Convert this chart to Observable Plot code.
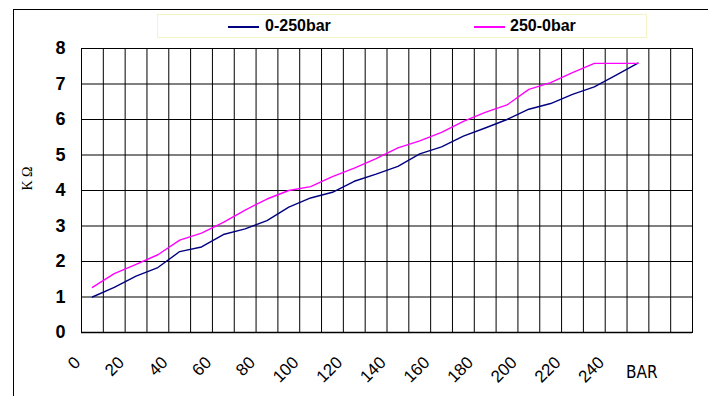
<!DOCTYPE html>
<html>
<head>
<meta charset="utf-8">
<script src="https://cdn.jsdelivr.net/npm/d3@7"></script>
<script src="https://cdn.jsdelivr.net/npm/@observablehq/plot@0.6"></script>
<style>
  html, body { margin: 0; padding: 0; background: #fff; overflow: hidden; }
  #wrap { position: relative; width: 708px; height: 396px; overflow: hidden; font-family: "Liberation Sans", Arial, sans-serif; }
  #border { position: absolute; left: 13px; top: 9px; width: 800px; height: 500px; border-left: 1px solid #000; border-top: 1px solid #000; }
  #legend { position: absolute; left: 157px; top: 14px; width: 488px; height: 22px; border: 1px solid #f3f3c4; }
  .sw { position: absolute; top: 11px; width: 31px; height: 2px; }
  .lt { position: absolute; top: 2px; font-weight: bold; font-size: 16px; line-height: 18px; color: #000; }
  #chart { position: absolute; left: 0; top: 0; }
</style>
</head>
<body>
<div id="wrap">
  <div id="border"></div>
  <div id="legend"></div>
  <div id="chart"></div>
</div>
<script>
// Categories (bar)
const pressure = [0, 10, 20, 30, 40, 50, 60, 70, 80, 90, 100, 110, 120, 130, 140, 150, 160, 170, 180, 190, 200, 210, 220, 230, 240, 250];
// Series: resistance in kΩ
const up = [1.0, 1.27, 1.59, 1.83, 2.28, 2.41, 2.76, 2.92, 3.15, 3.53, 3.79, 3.95, 4.26, 4.46, 4.68, 5.03, 5.23, 5.53, 5.76, 6.0, 6.29, 6.45, 6.71, 6.92, 7.25, 7.59];
const down = [1.27, 1.66, 1.92, 2.19, 2.6, 2.8, 3.1, 3.45, 3.76, 4.0, 4.11, 4.39, 4.63, 4.9, 5.2, 5.4, 5.64, 5.95, 6.2, 6.41, 6.85, 7.04, 7.32, 7.58, 7.58, 7.58];
const seriesNames = ["0-250bar", "250-0bar"];
const seriesColors = ["#000080", "#ff00ff"];
// Axis labels
const yTicks = [0, 1, 2, 3, 4, 5, 6, 7, 8];
const xTickLabels = ["0", "20", "40", "60", "80", "100", "120", "140", "160", "180", "200", "220", "240"];
const xUnit = "BAR";
const yTitle = "K Ω";
// category slots (28 categories of 10 bar each)
const slots = d3.range(0, 29).map(i => i * 10);

const rowsUp = pressure.map((p, i) => ({p, v: up[i]}));
const rowsDown = pressure.map((p, i) => ({p, v: down[i]}));
const xLabelRows = xTickLabels.map(t => ({pos: +t, t}));

const chart = Plot.plot({
  width: 708,
  height: 396,
  marginLeft: 81,
  marginRight: 16,
  marginTop: 48,
  marginBottom: 64,
  x: {domain: [0, 280], axis: null},
  y: {domain: [0, 8], axis: null},
  style: {background: "transparent", overflow: "visible", fontFamily: "'Liberation Sans', Arial, sans-serif", color: "#000"},
  marks: [
    Plot.ruleX(slots, {x: d => d, stroke: "#000", strokeWidth: 1}),
    Plot.ruleY(yTicks, {y: d => d, stroke: "#000", strokeWidth: 1}),
    Plot.frame({stroke: "#000", strokeWidth: 1}),
    Plot.ruleY([0], {stroke: "#000", strokeWidth: 1.5}),
    Plot.line(rowsUp, {x: d => d.p + 5, y: "v", stroke: seriesColors[0], strokeWidth: 1.4}),
    Plot.line(rowsDown, {x: d => d.p + 5, y: "v", stroke: seriesColors[1], strokeWidth: 1.4}),
    Plot.text(yTicks, {y: d => d, text: d => String(d), frameAnchor: "left", textAnchor: "end", dx: -16, fontWeight: "bold", fontSize: 18}),
    Plot.text(xLabelRows, {x: "pos", text: "t", frameAnchor: "bottom", rotate: -45, textAnchor: "end", dx: 0, dy: 31, fontSize: 17}),
    Plot.text([xUnit], {x: [260], text: d => d, frameAnchor: "bottom", dx: -7, dy: 45, fontSize: 17, fontFamily: "'Liberation Sans Narrow', 'DejaVu Sans Condensed', sans-serif"}),
    Plot.text([yTitle], {text: d => d, frameAnchor: "left", dx: -54, rotate: -90, fontSize: 14, fontFamily: "'Liberation Serif', 'DejaVu Serif', serif"})
  ]
});
document.getElementById("chart").appendChild(chart);

// Legend
const legend = document.getElementById("legend");
const legendPos = [[70, 107], [316, 352]];
seriesNames.forEach((name, i) => {
  const sw = document.createElement("div");
  sw.className = "sw";
  sw.style.left = legendPos[i][0] + "px";
  sw.style.background = seriesColors[i];
  legend.appendChild(sw);
  const t = document.createElement("div");
  t.className = "lt";
  t.style.left = legendPos[i][1] + "px";
  t.textContent = name;
  legend.appendChild(t);
});
</script>
</body>
</html>
